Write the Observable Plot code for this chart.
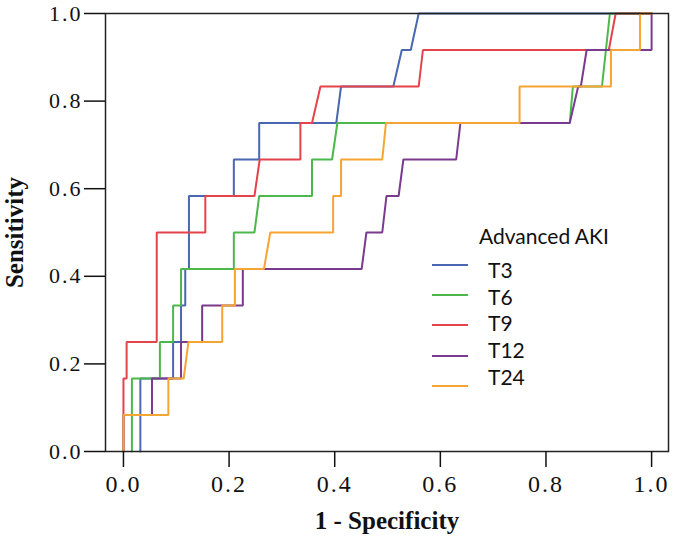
<!DOCTYPE html>
<html>
<head>
<meta charset="utf-8">
<script src="https://cdn.jsdelivr.net/npm/d3@7"></script>
<script src="https://cdn.jsdelivr.net/npm/@observablehq/plot@0.6"></script>
<style>
  body { margin: 0; background: #fff; }
  #wrap { position: relative; width: 675px; height: 537px; }
  #wrap svg { display: block; }
  #wrap svg g[aria-label="x-axis tick label"] text,
  #wrap svg g[aria-label="y-axis tick label"] text { letter-spacing: 2px; }
  .leg { position: absolute; font-family: Lato, "Open Sans", sans-serif; font-size: 21px; color: #111; line-height: 1; white-space: nowrap; }
  .sw { position: absolute; height: 2px; width: 36px; }
</style>
</head>
<body>
<div id="wrap"></div>
<script>
// Series names and colours
const seriesNames = ["T3", "T6", "T9", "T12", "T24"];
const seriesColors = ["#4a67b1", "#4cb84c", "#e5434b", "#7a3b8f", "#f6a433"];

// ROC points: x = 1 - specificity, y = sensitivity in twelfths
const t3X  = [0.032,0.032,0.094,0.094,0.109,0.109,0.117,0.117,0.124,0.124,0.209,0.209,0.257,0.257,0.403,0.412,0.511,0.527,0.544,0.559,1];
const t3Y  = [0,2,2,3,3,4,4,5,5,7,7,8,8,9,9,10,10,11,11,12,12];

const t6X  = [0.016,0.016,0.069,0.069,0.094,0.094,0.109,0.109,0.209,0.209,0.248,0.257,0.357,0.357,0.395,0.405,0.845,0.851,0.906,0.921,1];
const t6Y  = [0,2,2,3,3,4,4,5,5,6,6,7,7,8,8,9,9,10,10,12,12];

const t9X  = [0,0,0.006,0.006,0.063,0.063,0.155,0.155,0.248,0.258,0.335,0.335,0.357,0.373,0.559,0.567,0.919,0.932,1];
const t9Y  = [0,2,2,3,3,6,6,7,7,8,8,9,9,10,10,11,11,12,12];

const t12X = [0,0,0.054,0.054,0.109,0.109,0.149,0.149,0.226,0.226,0.451,0.460,0.490,0.498,0.521,0.530,0.630,0.638,0.845,0.861,0.866,0.877,1,1];
const t12Y = [0,1,1,2,2,3,3,4,4,5,5,6,6,7,7,8,8,9,9,10,10,11,11,12];

const t24X = [0,0,0.085,0.085,0.114,0.123,0.187,0.187,0.211,0.211,0.266,0.278,0.397,0.397,0.412,0.412,0.490,0.497,0.750,0.750,0.923,0.923,0.978,0.978,1];
const t24Y = [0,1,1,2,2,3,3,4,4,5,5,6,6,7,7,8,8,9,9,10,10,11,11,12,12];

const positives = 12;
const xTicks = [0, 0.2, 0.4, 0.6, 0.8, 1.0];
const yTicks = [0, 0.2, 0.4, 0.6, 0.8, 1.0];
const xTitle = "1 - Specificity";
const yTitle = "Sensitivity";
const legendTitle = "Advanced AKI";

const allX = [t3X, t6X, t9X, t12X, t24X];
const allY = [t3Y, t6Y, t9Y, t12Y, t24Y];
const rows = [];
seriesNames.forEach((name, i) => {
  allX[i].forEach((x, j) => rows.push({series: name, x, y: allY[i][j] / positives}));
});

const chart = Plot.plot({
  width: 675,
  height: 537,
  marginLeft: 105,
  marginRight: 7,
  marginTop: 13,
  marginBottom: 86,
  style: {fontFamily: "'Liberation Serif', 'Times New Roman', serif", color: "#111", background: "#fff"},
  x: {domain: [-0.034, 1.032]},
  y: {domain: [0, 1]},
  color: {domain: seriesNames, range: seriesColors},
  marks: [
    Plot.line(rows, {x: "x", y: "y", z: "series", stroke: "series", strokeWidth: 2, strokeLinejoin: "miter"}),
    Plot.frame({stroke: "#222", strokeWidth: 1.5}),
    Plot.axisX({ticks: xTicks, tickFormat: d3.format(".1f"), tickSize: 16, tickPadding: 7, fontSize: 24, label: null, strokeWidth: 1.5}),
    Plot.axisY({ticks: yTicks, tickFormat: d3.format(".1f"), tickSize: 21, tickPadding: 2, fontSize: 22, label: null, strokeWidth: 1.5}),
    Plot.text([xTitle], {frameAnchor: "bottom", dy: 77, fontSize: 25, fontWeight: "bold", textAnchor: "middle", text: d => d}),
    Plot.text([yTitle], {frameAnchor: "left", dx: -91, rotate: -90, fontSize: 25, fontWeight: "bold", textAnchor: "middle", lineAnchor: "middle", text: d => d})
  ]
});

const wrap = document.getElementById("wrap");
wrap.appendChild(chart);

// Legend overlay
const title = document.createElement("div");
title.className = "leg";
title.textContent = legendTitle;
title.style.left = "479px";
title.style.top = "225px";
wrap.appendChild(title);

const swatchY = [265, 295, 325, 356, 386];
const labelY = [270, 297, 323, 350, 377];
seriesNames.forEach((name, i) => {
  const sw = document.createElement("div");
  sw.className = "sw";
  sw.style.left = "432px";
  sw.style.top = (swatchY[i] - 1) + "px";
  sw.style.background = seriesColors[i];
  wrap.appendChild(sw);
  const lab = document.createElement("div");
  lab.className = "leg";
  lab.textContent = name;
  lab.style.left = "488px";
  lab.style.top = (labelY[i] - 11) + "px";
  wrap.appendChild(lab);
});
</script>
</body>
</html>
